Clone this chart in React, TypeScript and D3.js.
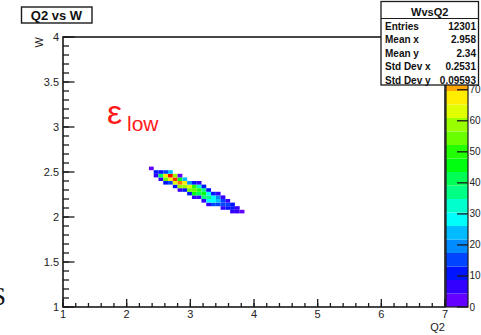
import React from "react";
import * as d3 from "d3";

// histogram binning (TH2 WvsQ2)
const xRange = [1, 7];
const yRange = [1, 4];
const nBinsX = 80;
const nBinsY = 75;
const zMax = 87;
const nContours = 20;

// filled columns: x bin index, first y bin, counts bottom -> top
const colBin = [18, 19, 20, 21, 22, 23, 24, 25, 26, 27, 28, 29, 30, 31, 32, 33, 34, 35, 36, 37];
const colFirstY = [38, 36, 35, 34, 34, 33, 32, 32, 31, 30, 30, 29, 28, 28, 28, 27, 27, 26, 26, 26];
const colCounts = [
  [3],
  [6, 9],
  [8, 42, 12],
  [12, 55, 66, 16],
  [14, 68, 84, 22],
  [9, 62, 80, 58],
  [8, 58, 74, 46, 4],
  [12, 60, 66, 22],
  [10, 56, 62, 18],
  [6, 44, 54, 48, 10],
  [8, 42, 50, 34, 6],
  [7, 35, 44, 36, 9],
  [5, 28, 36, 30, 10],
  [14, 30, 27, 10],
  [16, 24, 20, 7],
  [8, 17, 15, 8],
  [12, 14, 7],
  [6, 11, 9],
  [7, 5],
  [3],
];

const xTicks = [1, 2, 3, 4, 5, 6, 7];
const yTicks = [1, 1.5, 2, 2.5, 3, 3.5, 4];
// the 80 tick sits under the stats box
const zTicks = [0, 10, 20, 30, 40, 50, 60, 70];

const statTitle = "WvsQ2";
const statLabels = ["Entries", "Mean x", "Mean y", "Std Dev x", "Std Dev y"];
const statValues = ["12301", "2.958", "2.34", "0.2531", "0.09593"];

const FONT = "'Liberation Sans', Arial, Helvetica, sans-serif";
const INK = "#1a1a1a";

// ROOT "pretty" palette, 20 contours
const contourColor = (k: number) => {
  const idx = Math.floor(((k + 0.99) * 50) / nContours);
  return d3.hsl(280 - (idx + 1) * 5.6, 1, 0.5).formatHex();
};

export default function App() {
  const left = 63, right = 445, top = 37, bottom = 307;
  const x = d3.scaleLinear().domain(xRange).range([left, right]);
  const y = d3.scaleLinear().domain(yRange).range([bottom, top]);
  const z = d3.scaleLinear().domain([0, zMax]).range([bottom, top]);

  const bwX = (xRange[1] - xRange[0]) / nBinsX;
  const bwY = (yRange[1] - yRange[0]) / nBinsY;

  const cells = colBin.flatMap((ix, c) =>
    colCounts[c].map((v, k) => ({ ix, iy: colFirstY[c] + k, v }))
  );
  const colorOf = (v: number) =>
    contourColor(Math.min(nContours - 1, Math.floor((v / zMax) * nContours)));

  const xMinor = d3.range(xRange[0], xRange[1] + 1e-6, 0.2);
  const yMinor = d3.range(yRange[0], yRange[1] + 1e-6, 0.1);
  const bands = d3.range(nContours);

  const palL = 446, palR = 468;
  const boxL = 381, boxR = 478.5;

  return (
    <div style={{ position: "fixed", left: 0, top: 0 }}>
      <svg width={481} height={335} style={{ display: "block", background: "#fff" }}>
        {/* cells */}
        {cells.map((d, i) => {
          const x0 = x(xRange[0] + d.ix * bwX);
          const x1 = x(xRange[0] + (d.ix + 1) * bwX);
          const y0 = y(yRange[0] + (d.iy + 1) * bwY);
          const y1 = y(yRange[0] + d.iy * bwY);
          return <rect key={i} x={x0} y={y0} width={x1 - x0} height={y1 - y0} fill={colorOf(d.v)} />;
        })}

        {/* frame */}
        <rect x={left} y={top} width={right - left} height={bottom - top} fill="none" stroke={INK} strokeWidth={1.6} />

        {/* x axis ticks */}
        {xMinor.map((t, i) => (
          <line key={"xm" + i} x1={x(t)} x2={x(t)} y1={bottom} y2={bottom - 4} stroke={INK} strokeWidth={1.3} />
        ))}
        {xTicks.map((t) => (
          <g key={"xt" + t}>
            <line x1={x(t)} x2={x(t)} y1={bottom} y2={bottom - 8} stroke={INK} strokeWidth={1.3} />
            <text x={x(t)} y={318} textAnchor="middle" fontFamily={FONT} fontSize={11} fill="#222">
              {t}
            </text>
          </g>
        ))}
        <text x={right} y={331} textAnchor="end" fontFamily={FONT} fontSize={11} fill="#222">
          Q2
        </text>

        {/* y axis ticks */}
        {yMinor.map((t, i) => (
          <line key={"ym" + i} x1={left} x2={left + 6} y1={y(t)} y2={y(t)} stroke={INK} strokeWidth={1.3} />
        ))}
        {yTicks.map((t) => (
          <g key={"yt" + t}>
            <line x1={left} x2={left + 11.5} y1={y(t)} y2={y(t)} stroke={INK} strokeWidth={1.3} />
            <text x={59} y={y(t) + 4} textAnchor="end" fontFamily={FONT} fontSize={11} fill="#222">
              {t}
            </text>
          </g>
        ))}
        <text
          transform={`translate(42.5, ${top}) rotate(-90)`}
          textAnchor="end"
          fontFamily={FONT}
          fontSize={11}
          fill="#222"
        >
          W
        </text>

        {/* palette */}
        {bands.map((k) => (
          <rect
            key={"b" + k}
            x={palL}
            y={z(((k + 1) * zMax) / nContours)}
            width={palR - palL}
            height={z((k * zMax) / nContours) - z(((k + 1) * zMax) / nContours)}
            fill={contourColor(k)}
          />
        ))}
        <rect x={palL} y={top} width={palR - palL} height={bottom - top} fill="none" stroke={INK} strokeWidth={1.2} />
        {zTicks.map((t) => (
          <g key={"zt" + t}>
            <line x1={palR - 11} x2={palR} y1={z(t)} y2={z(t)} stroke={INK} strokeWidth={1.3} />
            <text x={469.5} y={z(t) + 3.5} fontFamily={FONT} fontSize={10} fill="#222">
              {t}
            </text>
          </g>
        ))}

        {/* stats box */}
        <rect x={boxL} y={1.5} width={boxR - boxL} height={83.5} fill="#fff" stroke={INK} strokeWidth={1.3} />
        <line x1={boxL} x2={boxR} y1={18.5} y2={18.5} stroke={INK} strokeWidth={1.1} />
        <text x={(boxL + boxR) / 2} y={16} textAnchor="middle" fontFamily={FONT} fontSize={11} fontWeight="bold" fill="#111">
          {statTitle}
        </text>
        {statLabels.map((s, i) => (
          <g key={s}>
            <text x={boxL + 4} y={29.6 + i * 13.5} fontFamily={FONT} fontSize={10} fontWeight="bold" fill="#111">
              {s}
            </text>
            <text x={boxR - 2.5} y={29.6 + i * 13.5} textAnchor="end" fontFamily={FONT} fontSize={10} fontWeight="bold" fill="#111">
              {statValues[i]}
            </text>
          </g>
        ))}

        {/* title */}
        <rect x={21.5} y={7} width={70.5} height={16} fill="#fff" stroke={INK} strokeWidth={1.4} />
        <text x={56.5} y={20} textAnchor="middle" fontFamily={FONT} fontSize={13} fontWeight="bold" fill="#111">
          Q2 vs W
        </text>

        {/* annotation */}
        <text x={107} y={124} fontFamily={FONT} fontSize={34} fill="#ff1a1a">
          ε
        </text>
        <text x={127} y={131} fontFamily={FONT} fontSize={21} fill="#ff1a1a">
          low
        </text>

        {/* slide text fragment */}
        <text x={6} y={305} textAnchor="end" fontFamily="'Liberation Serif', 'DejaVu Serif', serif" fontSize={26} fill="#111">
          S
        </text>
      </svg>
    </div>
  );
}
